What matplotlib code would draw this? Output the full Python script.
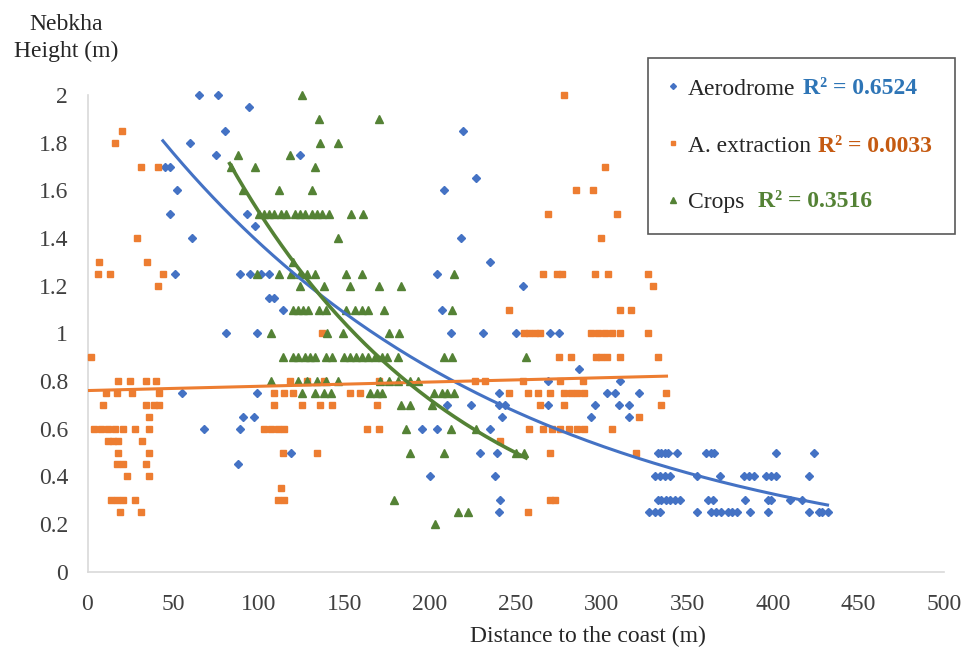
import numpy as np
import matplotlib
matplotlib.use("Agg")
import matplotlib.pyplot as plt
from matplotlib.lines import Line2D

plt.rcParams['font.family'] = ['Liberation Serif', 'DejaVu Serif']

# ---------------- data ----------------
aero_x = [65, 76, 94, 80, 60, 75, 124, 219, 45, 48, 52, 48, 93, 98, 61, 51, 89, 95, 101, 106,
          106, 109, 114, 208, 227, 218, 235, 204, 254, 207, 212, 231, 250, 270, 275, 287, 269, 311,
          81, 99, 55, 99, 91, 97, 68, 89, 88, 119, 240, 303, 308, 322, 224, 210, 240, 244, 269, 296,
          310, 316, 242, 294, 316, 195, 204, 235, 229, 239, 200, 238, 241, 240,
          333, 335, 337, 339, 344, 361, 364, 366, 402, 424,
          331, 334, 337, 340, 356, 369, 383, 386, 389, 396, 399, 402, 421,
          333, 335, 338, 340, 343, 346, 362, 365, 384, 397, 399, 410, 417,
          328, 331, 334, 356, 364, 367, 370, 374, 376, 379, 387, 397, 421, 427, 429, 432]
aero_y = [2.0, 2.0, 1.95, 1.85, 1.8, 1.75, 1.75, 1.85, 1.7, 1.7, 1.6, 1.5, 1.5, 1.45, 1.4, 1.25, 1.25, 1.25, 1.25, 1.25,
          1.15, 1.15, 1.1, 1.6, 1.65, 1.4, 1.3, 1.25, 1.2, 1.1, 1.0, 1.0, 1.0, 1.0, 1.0, 0.85, 0.8, 0.8,
          1.0, 1.0, 0.75, 0.75, 0.65, 0.65, 0.6, 0.6, 0.45, 0.5, 0.75, 0.75, 0.75, 0.75, 0.7, 0.7, 0.7, 0.7, 0.7, 0.7,
          0.7, 0.7, 0.65, 0.65, 0.65, 0.6, 0.6, 0.6, 0.5, 0.5, 0.4, 0.4, 0.3, 0.25,
          0.5, 0.5, 0.5, 0.5, 0.5, 0.5, 0.5, 0.5, 0.5, 0.5,
          0.4, 0.4, 0.4, 0.4, 0.4, 0.4, 0.4, 0.4, 0.4, 0.4, 0.4, 0.4, 0.4,
          0.3, 0.3, 0.3, 0.3, 0.3, 0.3, 0.3, 0.3, 0.3, 0.3, 0.3, 0.3, 0.3,
          0.25, 0.25, 0.25, 0.25, 0.25, 0.25, 0.25, 0.25, 0.25, 0.25, 0.25, 0.25, 0.25, 0.25, 0.25, 0.25]

extr_x = [278, 20, 16, 31, 41, 302, 285, 295, 269, 309, 29, 300, 7, 35,
          6, 13, 44, 266, 274, 277, 296, 304, 327, 41, 330, 246, 311, 317,
          137, 255, 258, 261, 264, 294, 298, 302, 306, 311, 327,
          2, 275, 282, 297, 300, 303, 311, 333,
          18, 25, 34, 40, 118, 128, 138, 170, 226, 232, 254, 276, 289,
          11, 17, 26, 42, 109, 115, 120, 153, 159, 246, 257, 263, 270, 278, 282, 286, 290, 338,
          9, 34, 39, 42, 109, 125, 136, 143, 169, 264, 278, 335,
          36, 322,
          4, 8, 12, 16, 21, 28, 36, 103, 107, 111, 115, 163, 170, 258, 266, 271, 276, 281, 286, 290, 306,
          12, 15, 18, 32, 241,
          18, 36, 114, 134, 270, 320,
          17, 21, 34, 23, 36, 113,
          14, 17, 21, 28, 111, 115, 270, 273,
          19, 31, 257]
extr_y = [2.0, 1.85, 1.8, 1.7, 1.7, 1.7, 1.6, 1.6, 1.5, 1.5, 1.4, 1.4, 1.3, 1.3,
          1.25, 1.25, 1.25, 1.25, 1.25, 1.25, 1.25, 1.25, 1.25, 1.2, 1.2, 1.1, 1.1, 1.1,
          1.0, 1.0, 1.0, 1.0, 1.0, 1.0, 1.0, 1.0, 1.0, 1.0, 1.0,
          0.9, 0.9, 0.9, 0.9, 0.9, 0.9, 0.9, 0.9,
          0.8, 0.8, 0.8, 0.8, 0.8, 0.8, 0.8, 0.8, 0.8, 0.8, 0.8, 0.8, 0.8,
          0.75, 0.75, 0.75, 0.75, 0.75, 0.75, 0.75, 0.75, 0.75, 0.75, 0.75, 0.75, 0.75, 0.75, 0.75, 0.75, 0.75, 0.75,
          0.7, 0.7, 0.7, 0.7, 0.7, 0.7, 0.7, 0.7, 0.7, 0.7, 0.7, 0.7,
          0.65, 0.65,
          0.6, 0.6, 0.6, 0.6, 0.6, 0.6, 0.6, 0.6, 0.6, 0.6, 0.6, 0.6, 0.6, 0.6, 0.6, 0.6, 0.6, 0.6, 0.6, 0.6, 0.6,
          0.55, 0.55, 0.55, 0.55, 0.55,
          0.5, 0.5, 0.5, 0.5, 0.5, 0.5,
          0.45, 0.45, 0.45, 0.4, 0.4, 0.35,
          0.3, 0.3, 0.3, 0.3, 0.3, 0.3, 0.3, 0.3,
          0.25, 0.25, 0.25]

crops_x = [125, 135, 170, 136, 146, 88, 118, 84, 98, 133, 91, 112, 131,
           100, 103, 106, 109, 113, 116, 121, 124, 127, 131, 134, 137, 141, 154, 161,
           146, 120,
           99, 112, 119, 124, 128, 133, 151, 160, 214,
           124, 138, 153, 170, 183,
           120, 123, 126, 129, 135, 139, 151, 156, 160, 164, 173, 213,
           107, 140, 149, 176, 182,
           114, 120, 123, 127, 130, 133, 139, 143, 150, 153, 157, 160, 164, 168, 172, 175, 181, 208, 213, 256,
           107, 123, 128, 134, 139, 146, 171, 176, 181, 188, 193,
           125, 133, 138, 142, 165, 169, 172, 202, 207, 210, 214,
           183, 188, 201, 186, 212, 227, 188, 208, 250, 255,
           179, 216, 222, 203]
crops_y = [2.0, 1.9, 1.9, 1.8, 1.8, 1.75, 1.75, 1.7, 1.7, 1.7, 1.6, 1.6, 1.6,
           1.5, 1.5, 1.5, 1.5, 1.5, 1.5, 1.5, 1.5, 1.5, 1.5, 1.5, 1.5, 1.5, 1.5, 1.5,
           1.4, 1.3,
           1.25, 1.25, 1.25, 1.25, 1.25, 1.25, 1.25, 1.25, 1.25,
           1.2, 1.2, 1.2, 1.2, 1.2,
           1.1, 1.1, 1.1, 1.1, 1.1, 1.1, 1.1, 1.1, 1.1, 1.1, 1.1, 1.1,
           1.0, 1.0, 1.0, 1.0, 1.0,
           0.9, 0.9, 0.9, 0.9, 0.9, 0.9, 0.9, 0.9, 0.9, 0.9, 0.9, 0.9, 0.9, 0.9, 0.9, 0.9, 0.9, 0.9, 0.9, 0.9,
           0.8, 0.8, 0.8, 0.8, 0.8, 0.8, 0.8, 0.8, 0.8, 0.8, 0.8,
           0.75, 0.75, 0.75, 0.75, 0.75, 0.75, 0.75, 0.75, 0.75, 0.75, 0.75,
           0.7, 0.7, 0.7, 0.6, 0.6, 0.6, 0.5, 0.5, 0.5, 0.5,
           0.3, 0.25, 0.25, 0.2]

# trendlines (Excel-style): exponential y = a*exp(b*x) or linear y = m*x + c
aero_trend = {"a": 2.234, "b": -0.004809, "x0": 44, "x1": 432}
extr_trend = {"m": 0.000179, "c": 0.76, "x0": 1, "x1": 338}
crops_trend = {"a": 3.160, "b": -0.007383, "x0": 83, "x1": 256}

series_names = ["Aerodrome", "A. extraction", "Crops"]
r2_labels = ["R² = 0.6524", "R² = 0.0033", "R² = 0.3516"]

x_ticks = [0, 50, 100, 150, 200, 250, 300, 350, 400, 450, 500]
y_ticks = [0, 0.2, 0.4, 0.6, 0.8, 1, 1.2, 1.4, 1.6, 1.8, 2]

BLUE = "#4472C4"
ORANGE = "#ED7D31"
GREEN = "#548235"

# ---------------- figure ----------------
W, H = 965, 654
fig = plt.figure(figsize=(W / 100, H / 100), dpi=100)
ax = fig.add_axes([87.5 / W, 1 - 571.7 / H, (944 - 87.5) / W, (571.7 - 95) / H])

ax.plot(aero_x, aero_y, 'D', color=BLUE, ms=3.6, mec=BLUE, ls='none', clip_on=False, zorder=3)
ax.plot(extr_x, extr_y, 's', color=ORANGE, ms=4.6, mec=ORANGE, ls='none', clip_on=False, zorder=3)
ax.plot(crops_x, crops_y, '^', color=GREEN, ms=5.2, mec=GREEN, ls='none', clip_on=False, zorder=3)

xa = np.linspace(aero_trend["x0"], aero_trend["x1"], 200)
ax.plot(xa, aero_trend["a"] * np.exp(aero_trend["b"] * xa), color=BLUE, lw=2.2, zorder=4)
xe = np.linspace(extr_trend["x0"], extr_trend["x1"], 50)
ax.plot(xe, extr_trend["m"] * xe + extr_trend["c"], color=ORANGE, lw=2.2, zorder=4)
xc = np.linspace(crops_trend["x0"], crops_trend["x1"], 200)
ax.plot(xc, crops_trend["a"] * np.exp(crops_trend["b"] * xc), color=GREEN, lw=2.6, zorder=4)

ax.set_xlim(0, 500)
ax.set_ylim(0, 2)
ax.set_xticks(x_ticks)
ax.set_xticklabels([str(t) for t in x_ticks])
ax.set_yticks(y_ticks)
ax.set_yticklabels([("%g" % t) for t in y_ticks])
ax.tick_params(axis='both', length=0, labelsize=17, colors='#404040')
ax.tick_params(axis='y', pad=14)
ax.tick_params(axis='x', pad=16)
for s in ['top', 'right']:
    ax.spines[s].set_visible(False)
for s in ['left', 'bottom']:
    ax.spines[s].set_color('#D9D9D9')
    ax.spines[s].set_linewidth(1.2)

fig.text(588 / W, 1 - 636 / H, "Distance to the coast (m)", ha='center', va='center',
         fontsize=17, color='#262626')
fig.text(66 / W, 1 - 38 / H, "Nebkha\nHeight (m)", ha='center', va='center',
         fontsize=17, color='#262626', linespacing=1.3)

handles = [Line2D([], [], marker='D', color=BLUE, ls='none', ms=3),
           Line2D([], [], marker='s', color=ORANGE, ls='none', ms=3.5),
           Line2D([], [], marker='^', color=GREEN, ls='none', ms=4)]
leg = fig.legend(handles, series_names, loc='upper left',
                 bbox_to_anchor=(648 / W, 1 - 232 / H, (955 - 648) / W, (232 - 58) / H),
                 mode='expand', fontsize=17, frameon=True, fancybox=False, framealpha=1,
                 edgecolor='#595959', borderpad=0.85, labelspacing=1.5, handlelength=0.4,
                 handletextpad=0.45, borderaxespad=0)
leg.get_frame().set_linewidth(1.2)
leg.set_zorder(5)
for t in leg.get_texts():
    t.set_color('#262626')

r2_colors = ["#2E75B6", "#C55A11", "#548235"]
r2_pos = [(803, 89), (818, 146), (758, 201)]
for lab, col, (px, py) in zip(r2_labels, r2_colors, r2_pos):
    fig.text(px / W, 1 - py / H, lab, ha='left', va='center', fontsize=17,
             color=col, fontweight='bold', zorder=10)

fig.savefig("out.png", dpi=100)
